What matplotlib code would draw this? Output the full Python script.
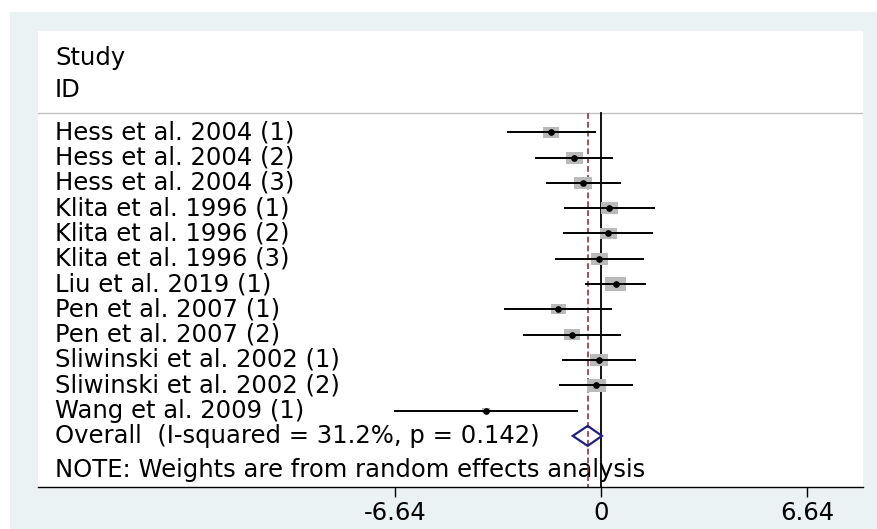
"""
Forest plot (random effects meta-analysis), Stata metan style
"""

import numpy as np
import matplotlib
matplotlib.use('Agg')
import matplotlib.pyplot as plt
from matplotlib.patches import Rectangle, Polygon

# Study data
studies = [
    'Hess et al. 2004 (1)', 'Hess et al. 2004 (2)', 'Hess et al. 2004 (3)',
    'Klita et al. 1996 (1)', 'Klita et al. 1996 (2)', 'Klita et al. 1996 (3)',
    'Liu et al. 2019 (1)', 'Pen et al. 2007 (1)', 'Pen et al. 2007 (2)',
    'Sliwinski et al. 2002 (1)', 'Sliwinski et al. 2002 (2)', 'Wang et al. 2009 (1)',
]
effect = [-1.61, -0.86, -0.57, 0.27, 0.24, -0.06, 0.47, -1.38, -0.94, -0.06, -0.15, -3.71]
ci_low = [-3.01, -2.09, -1.75, -1.15, -1.18, -1.46, -0.49, -3.09, -2.48, -1.22, -1.32, -6.64]
ci_high = [-0.19, 0.36, 0.62, 1.70, 1.65, 1.35, 1.43, 0.33, 0.62, 1.11, 1.00, -0.76]
weights = [8.1, 9.1, 9.1, 8.4, 8.1, 8.4, 12.5, 6.3, 7.2, 10.2, 10.5, 2.0]

overall_label = 'Overall  (I-squared = 31.2%, p = 0.142)'
overall_est = -0.43
overall_low = -0.91
overall_high = 0.03

note = 'NOTE: Weights are from random effects analysis'
tick_values = [-6.64, 0, 6.64]
tick_labels = ['-6.64', '0', '6.64']

# Style
FONT = 'DejaVu Sans'
FS = 17.5
BG = '#eaf2f3'
BOX_GREY = '#bababa'
MAROON = '#90353b'
NAVY = '#20207f'

W, H = 877, 529
fig = plt.figure(figsize=(W / 100, H / 100), dpi=100)
fig.patch.set_facecolor('white')

# outer light panel, drawn in a background axes so it sits under the plot
bg_ax = fig.add_axes([10 / W, 0, 1 - 10 / W, 1 - 12 / H], zorder=-1)
bg_ax.set_facecolor(BG)
bg_ax.set_xticks([])
bg_ax.set_yticks([])
for s in bg_ax.spines.values():
    s.set_visible(False)

ax = fig.add_axes([38 / W, (H - 487) / H, (863 - 38) / W, (487 - 31) / H], zorder=1)
ax.set_facecolor('white')

px_per_unit = 31.0   # horizontal pixels per unit of effect
row_px = 25.3        # vertical pixels per row
ax.set_xlim((38 - 601) / px_per_unit, (863 - 601) / px_per_unit)
ymin, ymax = -4.0, 14.02
ax.set_ylim(ymax, ymin)

n = len(studies)
label_x = (55 - 601) / px_per_unit
header_y = -0.75

# header
ax.text(label_x, -2.95, 'Study', fontsize=FS, family=FONT, va='center', ha='left')
ax.text(label_x, -1.68, 'ID', fontsize=FS, family=FONT, va='center', ha='left')
ax.axhline(header_y, color='#c0c0c0', lw=1.0, zorder=1)

# reference lines
ax.plot([0, 0], [header_y, ymax], color='black', lw=1.3, zorder=2)
ax.plot([overall_est, overall_est], [header_y, ymax], color=MAROON, lw=1.2,
        dashes=(3.5, 1.8), zorder=2)

# studies
for i in range(n):
    ax.text(label_x, i, studies[i], fontsize=FS, family=FONT, va='center', ha='left')
    side_px = 5.86 * np.sqrt(weights[i])
    bw = side_px / px_per_unit
    bh = 0.68 * side_px / row_px
    ax.add_patch(Rectangle((effect[i] - bw / 2, i - bh / 2), bw, bh,
                           facecolor=BOX_GREY, edgecolor='none', zorder=3))
    ax.plot([ci_low[i], ci_high[i]], [i, i], color='black', lw=1.4, zorder=4)
    ax.plot(effect[i], i, 'o', color='black', markersize=3.8, zorder=5)

# overall
oy = n
ax.text(label_x, oy, overall_label, fontsize=FS, family=FONT, va='center', ha='left')
dh = 10 / row_px
ax.add_patch(Polygon([(overall_low, oy), (overall_est, oy - dh),
                      (overall_high, oy), (overall_est, oy + dh)],
                     closed=True, facecolor='none', edgecolor=NAVY, lw=1.6, zorder=5))

ax.text(label_x, 13.35, note, fontsize=FS, family=FONT, va='center', ha='left', zorder=1)

# axes styling
for side in ['top', 'right', 'left']:
    ax.spines[side].set_visible(False)
ax.spines['bottom'].set_linewidth(1.0)
ax.set_yticks([])
ax.set_xticks(tick_values)
ax.set_xticklabels(tick_labels, fontsize=FS, family=FONT)
ax.tick_params(axis='x', direction='out', length=7, width=1.0, pad=3)

fig.savefig('out.png', dpi=100)
